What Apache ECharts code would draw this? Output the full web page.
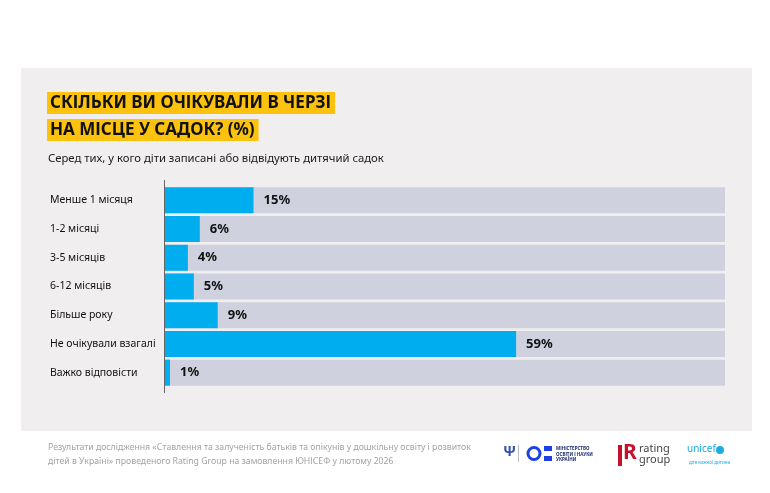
<!DOCTYPE html>
<html>
<head>
<meta charset="utf-8">
<script src="https://cdn.jsdelivr.net/npm/echarts@6/dist/echarts.min.js"></script>
<style>
  html, body { margin: 0; padding: 0; background: #ffffff; }
  #chart { width: 770px; height: 493px; }
</style>
</head>
<body>
<div id="chart"></div>
<script>
// категорії (час очікування)
const categories = [
  "Менше 1 місяця",
  "1-2 місяці",
  "3-5 місяців",
  "6-12 місяців",
  "Більше року",
  "Не очікували взагалі",
  "Важко відповісти"
];
// відсотки
const values = [15, 6, 4, 5, 9, 59, 1];

const titleLines = ["СКІЛЬКИ ВИ ОЧІКУВАЛИ В ЧЕРЗІ", "НА МІСЦЕ У САДОК? (%)"];
const subtitle = "Серед тих, у кого діти записані або відвідують дитячий садок";
const footnote = "Результати дослідження «Ставлення та залученість батьків та опікунів у дошкільну освіту і розвиток\nдітей в Україні» проведеного Rating Group на замовлення ЮНІСЕФ у лютому 2026";

const font = "Noto Sans";
const chart = echarts.init(document.getElementById("chart"));

chart.setOption({
  backgroundColor: "#ffffff",
  textStyle: { fontFamily: font },
  title: [
    {
      text: titleLines[0],
      left: 47, top: 92,
      backgroundColor: "#fcc20d",
      padding: [3, 4, 2, 3],
      textStyle: { fontSize: 17, fontWeight: "bold", color: "#111", fontFamily: font }
    },
    {
      text: titleLines[1],
      left: 47, top: 119,
      backgroundColor: "#fcc20d",
      padding: [3, 4, 2, 3],
      textStyle: { fontSize: 17, fontWeight: "bold", color: "#111", fontFamily: font }
    },
    {
      text: subtitle,
      left: 48, top: 153,
      padding: 0,
      textStyle: { fontSize: 11.3, fontWeight: "normal", color: "#1a1a1a", fontFamily: font }
    },
    {
      text: footnote,
      left: 48, top: 441,
      padding: 0,
      textStyle: { fontSize: 8.7, fontWeight: "normal", color: "#a3a3a3", lineHeight: 14, fontFamily: font }
    }
  ],
  grid: { left: 164, right: 45, top: 186, bottom: 106 },
  xAxis: {
    type: "value",
    min: 0,
    max: 94,
    show: false
  },
  yAxis: {
    type: "category",
    data: categories,
    inverse: true,
    axisLine: { show: false },
    axisTick: { show: false },
    axisLabel: {
      align: "left",
      margin: 114,
      fontSize: 10.5,
      color: "#111",
      fontFamily: font
    }
  },
  series: [
    {
      type: "bar",
      data: values,
      barWidth: 26,
      itemStyle: { color: "#00aeef" },
      showBackground: true,
      backgroundStyle: { color: "#cfd2de" },
      label: {
        show: true,
        position: "right",
        distance: 10,
        formatter: "{c}%",
        fontSize: 13,
        fontWeight: "bold",
        color: "#111",
        fontFamily: font
      },
      silent: true
    }
  ],
  graphic: [
    // сіра підкладка
    { type: "rect", z: -10, shape: { x: 21, y: 68, width: 731, height: 363 }, style: { fill: "#f0eeee" } },
    // вісь
    { type: "line", z: 10, shape: { x1: 164.5, y1: 180, x2: 164.5, y2: 393 }, style: { stroke: "#666", lineWidth: 1 } },
    // логотипи
    { type: "text", left: 503, top: 444, style: { text: "Ѱ", fontSize: 15, fontWeight: "bold", fill: "#3552a6", fontFamily: font } },
    { type: "line", shape: { x1: 518.5, y1: 445, x2: 518.5, y2: 462 }, style: { stroke: "#b8bcc8", lineWidth: 1 } },
    { type: "circle", shape: { cx: 534, cy: 453.5, r: 6 }, style: { fill: "none", stroke: "#1f3fe6", lineWidth: 3 } },
    { type: "rect", shape: { x: 544, y: 446, width: 8, height: 5 }, style: { fill: "#1f3fe6" } },
    { type: "rect", shape: { x: 544, y: 456, width: 8, height: 5 }, style: { fill: "#1f3fe6" } },
    { type: "text", left: 556, top: 446, style: { text: "МІНІСТЕРСТВО\nОСВІТИ І НАУКИ\nУКРАЇНИ", fontSize: 4.5, lineHeight: 5.5, fontWeight: "bold", fill: "#1a2a6c", fontFamily: font } },
    { type: "rect", shape: { x: 618, y: 445, width: 4, height: 21 }, style: { fill: "#c8102e" } },
    { type: "text", left: 623, top: 443, style: { text: "R", fontSize: 21, fontWeight: "bold", fill: "#c8102e", fontFamily: font } },
    { type: "text", left: 639, top: 443, style: { text: "rating\ngroup", fontSize: 11, lineHeight: 11, fill: "#444", fontFamily: font } },
    { type: "text", left: 687, top: 444, style: { text: "unicef", fontSize: 10, fill: "#1cabe2", fontFamily: font } },
    { type: "circle", shape: { cx: 720, cy: 450, r: 4 }, style: { fill: "#1cabe2" } },
    { type: "text", left: 689, top: 460, style: { text: "для кожної дитини", fontSize: 4.5, fill: "#1cabe2", fontFamily: font } }
  ]
});
</script>
</body>
</html>
